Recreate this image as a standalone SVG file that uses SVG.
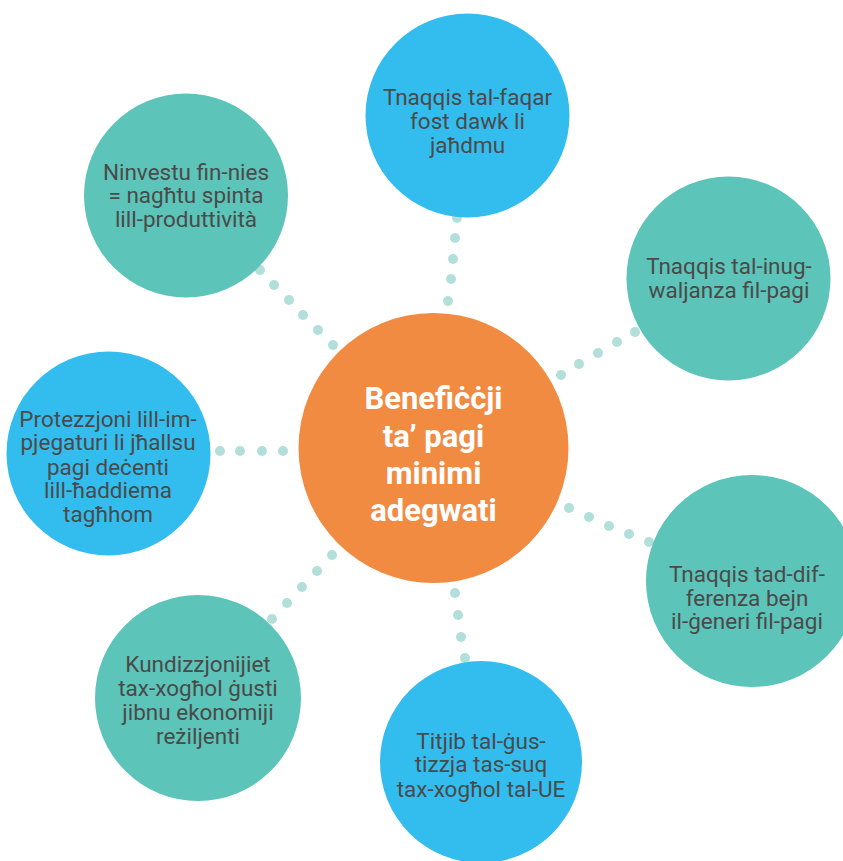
<svg xmlns="http://www.w3.org/2000/svg" width="843" height="861" viewBox="0 0 843 861">
<style>
.dot{fill:#b2dfda}
.blue{fill:#33bdee}
.teal{fill:#5cc4b8}
.orange{fill:#f28b42}
.lbl{font-family:Roboto,"Noto Sans",sans-serif;font-size:22.5px;fill:#4a4a4a;text-anchor:middle}
.ctr{font-family:Roboto,"Noto Sans",sans-serif;font-size:31px;font-weight:bold;fill:#ffffff;text-anchor:middle}
</style>
<rect width="843" height="861" fill="#ffffff"/>
<g id="connectors">
<circle class="dot" cx="457" cy="218" r="5"/><circle class="dot" cx="455" cy="238" r="5"/><circle class="dot" cx="453" cy="259" r="5"/><circle class="dot" cx="451" cy="279" r="5"/><circle class="dot" cx="448" cy="301" r="5"/>
<circle class="dot" cx="220" cy="451" r="5"/><circle class="dot" cx="240" cy="451" r="5"/><circle class="dot" cx="262" cy="451" r="5"/><circle class="dot" cx="283" cy="451" r="5"/>
<circle class="dot" cx="561" cy="375" r="5"/><circle class="dot" cx="579" cy="364" r="5"/><circle class="dot" cx="598" cy="353" r="5"/><circle class="dot" cx="617" cy="342" r="5"/><circle class="dot" cx="635" cy="332" r="5"/>
<circle class="dot" cx="569" cy="508" r="5"/><circle class="dot" cx="589" cy="517" r="5"/><circle class="dot" cx="609" cy="526" r="5"/><circle class="dot" cx="629" cy="534" r="5"/><circle class="dot" cx="649" cy="542" r="5"/>
<circle class="dot" cx="260" cy="270" r="5"/><circle class="dot" cx="274" cy="285" r="5"/><circle class="dot" cx="289" cy="300" r="5"/><circle class="dot" cx="303" cy="315" r="5"/><circle class="dot" cx="318" cy="330" r="5"/><circle class="dot" cx="333" cy="345" r="5"/>
<circle class="dot" cx="272" cy="619" r="5"/><circle class="dot" cx="287" cy="603" r="5"/><circle class="dot" cx="302" cy="587" r="5"/><circle class="dot" cx="317" cy="571" r="5"/><circle class="dot" cx="332" cy="555" r="5"/>
<circle class="dot" cx="455" cy="593" r="5"/><circle class="dot" cx="458" cy="615" r="5"/><circle class="dot" cx="461" cy="637" r="5"/><circle class="dot" cx="465" cy="658" r="5"/>
</g>
<g id="center">
<circle class="orange" cx="433.5" cy="448" r="135"/>
<text class="ctr" x="433.5" y="409">Benefiċċji</text>
<text class="ctr" x="433.5" y="447">ta’ pagi</text>
<text class="ctr" x="433.5" y="484">minimi</text>
<text class="ctr" x="433.5" y="521">adegwati</text>
</g>
<g id="n-top">
<circle class="blue" cx="467.5" cy="115.5" r="102"/>
<text class="lbl" x="467.5" y="105">Tnaqqis tal-faqar</text>
<text class="lbl" x="467.5" y="129">fost dawk li</text>
<text class="lbl" x="467.5" y="153">jaħdmu</text>
</g>
<g id="n-topleft">
<circle class="teal" cx="186" cy="195.5" r="102"/>
<text class="lbl" x="186" y="180">Ninvestu fin-nies</text>
<text class="lbl" x="186" y="203">= nagħtu spinta</text>
<text class="lbl" x="186" y="227">lill-produttività</text>
</g>
<g id="n-right">
<circle class="teal" cx="728.5" cy="278.5" r="102"/>
<text class="lbl" x="729" y="274">Tnaqqis tal-inug-</text>
<text class="lbl" x="729" y="298">waljanza fil-pagi</text>
</g>
<g id="n-left">
<circle class="blue" cx="108.5" cy="453.5" r="102"/>
<text class="lbl" x="108" y="427">Protezzjoni lill-im-</text>
<text class="lbl" x="108" y="450">pjegaturi li jħallsu</text>
<text class="lbl" x="108" y="475">pagi deċenti</text>
<text class="lbl" x="108" y="498">lill-ħaddiema</text>
<text class="lbl" x="108" y="522">tagħhom</text>
</g>
<g id="n-rightbottom">
<circle class="teal" cx="752" cy="581" r="106"/>
<text class="lbl" x="747" y="582">Tnaqqis tad-dif-</text>
<text class="lbl" x="747" y="606">ferenza bejn</text>
<text class="lbl" x="747" y="629">il-ġeneri fil-pagi</text>
</g>
<g id="n-bottomleft">
<circle class="teal" cx="198" cy="698" r="103"/>
<text class="lbl" x="198" y="672">Kundizzjonijiet</text>
<text class="lbl" x="198" y="696">tax-xogħol ġusti</text>
<text class="lbl" x="198" y="720">jibnu ekonomiji</text>
<text class="lbl" x="198" y="744">reżiljenti</text>
</g>
<g id="n-bottom">
<circle class="blue" cx="481" cy="762" r="101"/>
<text class="lbl" x="481" y="749">Titjib tal-ġus-</text>
<text class="lbl" x="481" y="772">tizzja tas-suq</text>
<text class="lbl" x="481" y="797">tax-xogħol tal-UE</text>
</g>
</svg>
